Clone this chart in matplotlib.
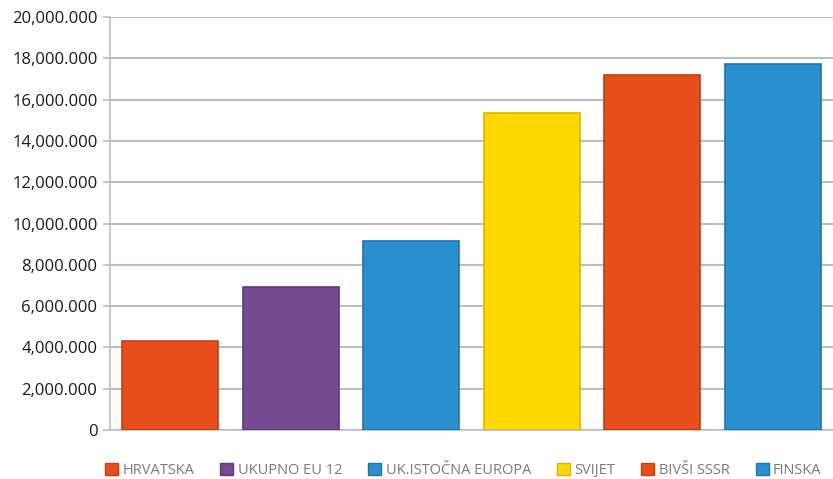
import matplotlib.pyplot as plt
from matplotlib.ticker import FuncFormatter, MultipleLocator
from matplotlib.patches import Patch

categories = ['HRVATSKA', 'UKUPNO EU 12', 'UK.ISTOČNA EUROPA', 'SVIJET', 'BIVŠI SSSR', 'FINSKA']
values = [4310000, 6920000, 9150000, 15350000, 17190000, 17720000]
colors = ['#E84E1B', '#744A91', '#2A8FCF', '#FFD800', '#E84E1B', '#2A8FCF']
edges = ['#C23E12', '#5E3A78', '#1F74AB', '#D9B800', '#C23E12', '#1F74AB']


def fmt(v, pos):
    # oznake kao na originalu: 20,000.000
    if v == 0:
        return '0'
    s = f"{int(v):,}"
    return s[::-1].replace(',', '.', 1)[::-1]


plt.rcParams['font.family'] = ['Open Sans', 'DejaVu Sans']

fig = plt.figure(figsize=(8.33, 4.79), dpi=100)
ax = fig.add_axes([0.132, 0.1023, 0.868, 0.862])

x = range(len(categories))
ax.bar(x, values, width=0.8, color=colors, edgecolor=edges, linewidth=1.2, zorder=3)

ax.set_xlim(-0.5, 5.5)
ax.set_ylim(0, 20000000)
ax.yaxis.set_major_locator(MultipleLocator(2000000))
ax.yaxis.set_major_formatter(FuncFormatter(fmt))
ax.set_xticks([])

ax.grid(axis='y', color='#BDBDBD', linewidth=1.5, zorder=0)
for s in ['top', 'right']:
    ax.spines[s].set_visible(False)
for s in ['left', 'bottom']:
    ax.spines[s].set_color('#BDBDBD')
    ax.spines[s].set_linewidth(1.2)
ax.tick_params(axis='y', colors='#BDBDBD', length=5, width=1.2, labelcolor='#1a1a1a',
               labelsize=12, pad=4)

handles = [Patch(facecolor=c, edgecolor=e) for c, e in zip(colors, edges)]
fig.legend(handles, categories, loc='center', bbox_to_anchor=(0.556, 0.017), ncol=6,
           frameon=False, fontsize=10.5, labelcolor='#7a7a7a', handlelength=0.9,
           handleheight=0.9, handletextpad=0.3, columnspacing=1.78,
           borderpad=0, borderaxespad=0)

fig.savefig('out.png', dpi=100)
